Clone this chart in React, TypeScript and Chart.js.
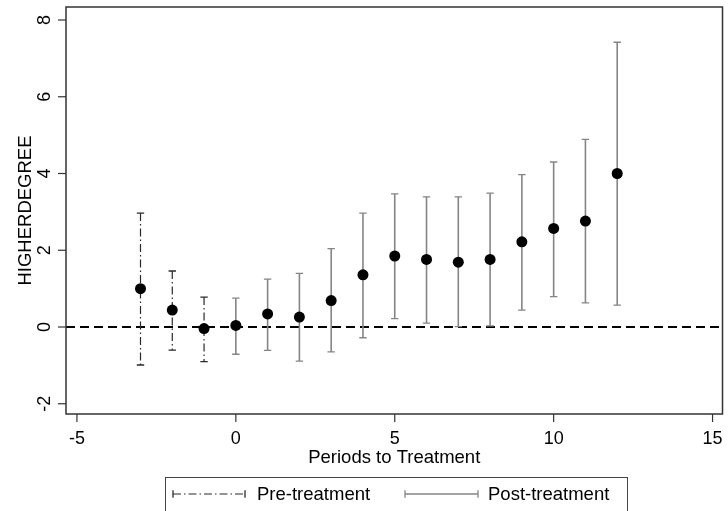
import React, { useEffect, useRef } from "react";
import { Chart, registerables } from "chart.js";

Chart.register(...registerables);

// ---- data ----
const periods = [-3, -2, -1, 0, 1, 2, 3, 4, 5, 6, 7, 8, 9, 10, 11, 12];
const estimates = [1.0, 0.44, -0.04, 0.04, 0.34, 0.26, 0.69, 1.36, 1.85, 1.76, 1.69, 1.76, 2.22, 2.57, 2.76, 4.0];
const upperCI = [2.97, 1.46, 0.78, 0.75, 1.25, 1.4, 2.04, 2.97, 3.47, 3.39, 3.39, 3.49, 3.97, 4.3, 4.89, 7.42];
const lowerCI = [-0.99, -0.6, -0.9, -0.71, -0.61, -0.89, -0.65, -0.28, 0.22, 0.1, 0.01, 0.03, 0.44, 0.79, 0.63, 0.57];
const xTickValues = [-5, 0, 5, 10, 15];
const yTickValues = [-2, 0, 2, 4, 6, 8];
const xTitle = "Periods to Treatment";
const yTitle = "HIGHERDEGREE";
const legendLabels = ["Pre-treatment", "Post-treatment"];

const FONT = '"Liberation Sans", Arial, sans-serif';
const PRE_DASH = [8, 3, 1.5, 3];
const PRE_COLOR = "#2a2a2a";
const POST_COLOR = "#858585";

function drawErrorSegment(
  ctx: CanvasRenderingContext2D,
  x1: number, y1: number, x2: number, y2: number,
  pre: boolean, vertical: boolean
) {
  const color = pre ? PRE_COLOR : POST_COLOR;
  ctx.save();
  ctx.strokeStyle = color;
  ctx.lineWidth = pre ? 1.2 : 1.6;
  ctx.setLineDash(pre ? PRE_DASH : []);
  ctx.beginPath();
  ctx.moveTo(x1, y1);
  ctx.lineTo(x2, y2);
  ctx.stroke();
  ctx.setLineDash([]);
  ctx.lineWidth = 1.3;
  const c = 3.7;
  ctx.beginPath();
  if (vertical) {
    ctx.moveTo(x1 - c, y1); ctx.lineTo(x1 + c, y1);
    ctx.moveTo(x2 - c, y2); ctx.lineTo(x2 + c, y2);
  } else {
    ctx.moveTo(x1, y1 - c); ctx.lineTo(x1, y1 + c);
    ctx.moveTo(x2, y2 - c); ctx.lineTo(x2, y2 + c);
  }
  ctx.stroke();
  ctx.restore();
}

const stataPlugin = {
  id: "stataPlugin",
  beforeDatasetsDraw(chart: any) {
    const { ctx, chartArea: a, scales } = chart;
    const x = scales.x, y = scales.y;
    ctx.save();
    const y0 = y.getPixelForValue(0);
    ctx.strokeStyle = "#000";
    ctx.lineWidth = 2;
    ctx.setLineDash([9, 5]);
    ctx.beginPath();
    ctx.moveTo(a.left, y0);
    ctx.lineTo(a.right, y0);
    ctx.stroke();
    ctx.restore();
    periods.forEach((p, i) => {
      const px = x.getPixelForValue(p);
      drawErrorSegment(ctx, px, y.getPixelForValue(upperCI[i]), px, y.getPixelForValue(lowerCI[i]), p < 0, true);
    });
  },
  afterDraw(chart: any) {
    const { ctx, chartArea: a, scales } = chart;
    const x = scales.x, y = scales.y;
    ctx.save();
    // frame
    ctx.strokeStyle = "#333";
    ctx.lineWidth = 1.5;
    ctx.strokeRect(a.left, a.top, a.right - a.left, a.bottom - a.top);
    ctx.fillStyle = "#000";
    // y ticks
    ctx.lineWidth = 1.2;
    ctx.font = `18px ${FONT}`;
    yTickValues.forEach((v) => {
      const py = y.getPixelForValue(v);
      ctx.beginPath();
      ctx.moveTo(a.left - 8, py);
      ctx.lineTo(a.left, py);
      ctx.stroke();
      ctx.save();
      ctx.translate(50, py);
      ctx.rotate(-Math.PI / 2);
      ctx.textAlign = "center";
      ctx.textBaseline = "alphabetic";
      ctx.fillText(String(v), 0, 0);
      ctx.restore();
    });
    // x ticks
    xTickValues.forEach((v) => {
      const px = x.getPixelForValue(v);
      ctx.beginPath();
      ctx.moveTo(px, a.bottom);
      ctx.lineTo(px, a.bottom + 8);
      ctx.stroke();
      ctx.textAlign = "center";
      ctx.textBaseline = "alphabetic";
      ctx.fillText(String(v), px, 444);
    });
    // titles
    ctx.font = `18.5px ${FONT}`;
    ctx.textAlign = "center";
    ctx.textBaseline = "alphabetic";
    ctx.fillText(xTitle, (a.left + a.right) / 2, 463);
    ctx.save();
    ctx.translate(31, (a.top + a.bottom) / 2);
    ctx.rotate(-Math.PI / 2);
    ctx.fillText(yTitle, 0, 0);
    ctx.restore();
    // legend
    ctx.strokeStyle = "#444";
    ctx.lineWidth = 1;
    ctx.strokeRect(165.5, 477.5, 462, 50);
    drawErrorSegment(ctx, 173, 494, 245, 494, true, false);
    drawErrorSegment(ctx, 405, 494, 478, 494, false, false);
    ctx.fillStyle = "#000";
    ctx.textAlign = "left";
    ctx.textBaseline = "middle";
    ctx.font = `18.5px ${FONT}`;
    ctx.fillText(legendLabels[0], 257, 495);
    ctx.fillText(legendLabels[1], 488, 495);
    ctx.restore();
  },
};

export default function App() {
  const ref = useRef<HTMLCanvasElement | null>(null);
  useEffect(() => {
    if (!ref.current) return;
    const pts = periods.map((p, i) => ({ x: p, y: estimates[i] }));
    const chart = new Chart(ref.current, {
      type: "scatter",
      data: {
        datasets: [
          {
            label: legendLabels[0],
            data: pts.filter((d) => d.x < 0),
            pointRadius: 5.5,
            pointBackgroundColor: "#000",
            pointBorderWidth: 0,
            showLine: false,
          },
          {
            label: legendLabels[1],
            data: pts.filter((d) => d.x >= 0),
            pointRadius: 5.5,
            pointBackgroundColor: "#000",
            pointBorderWidth: 0,
            showLine: false,
          },
        ],
      },
      options: {
        responsive: false,
        animation: false,
        layout: { padding: { left: 66, right: 2, top: 7, bottom: 97 } },
        scales: {
          x: { type: "linear", min: -5.344, max: 15.313, display: false },
          y: { type: "linear", min: -2.267, max: 8.339, display: false },
        },
        plugins: { legend: { display: false }, tooltip: { enabled: false } },
      },
      plugins: [stataPlugin],
    });
    return () => chart.destroy();
  }, []);
  return (
    <div style={{ position: "absolute", left: 0, top: 0, width: 728, height: 511, background: "#fff" }}>
      <canvas ref={ref} width={728} height={511} />
    </div>
  );
}
